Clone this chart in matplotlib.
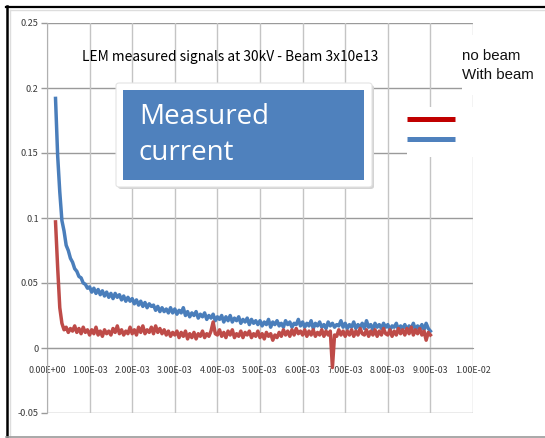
import numpy as np
import matplotlib
matplotlib.use("Agg")
import matplotlib.pyplot as plt
from matplotlib.patches import Rectangle, FancyBboxPatch
from matplotlib.lines import Line2D
from matplotlib.ticker import FixedLocator, FixedFormatter

# ---------------- data ----------------
t_start = 0.20e-3
t_step = 0.05e-3

with_beam = [
    0.192, 0.148, 0.120, 0.098, 0.090, 0.079, 0.075, 0.069, 0.066, 0.061, 0.059, 0.055, 0.054, 0.050, 0.049, 0.046,
    0.047, 0.043, 0.046, 0.042, 0.045, 0.041, 0.044, 0.040, 0.043, 0.039, 0.042, 0.038, 0.042, 0.039, 0.041, 0.037, 0.040, 0.036, 0.039, 0.036,
    0.038, 0.034, 0.037, 0.033, 0.036, 0.032, 0.035, 0.031, 0.034, 0.032, 0.033, 0.029, 0.032, 0.028, 0.031, 0.028, 0.030, 0.027, 0.031, 0.027,
    0.030, 0.026, 0.029, 0.027, 0.031, 0.025, 0.028, 0.024, 0.027, 0.025, 0.028, 0.023, 0.026, 0.024, 0.027, 0.022, 0.025, 0.023, 0.026, 0.021,
    0.024, 0.022, 0.025, 0.020, 0.024, 0.021, 0.025, 0.020, 0.023, 0.021, 0.024, 0.019, 0.022, 0.020, 0.023, 0.018, 0.022, 0.019, 0.021, 0.018,
    0.021, 0.017, 0.020, 0.018, 0.022, 0.016, 0.020, 0.018, 0.021, 0.017, 0.019, 0.016, 0.021, 0.018, 0.020, 0.016, 0.019, 0.018, 0.022, 0.017,
    0.020, 0.016, 0.019, 0.017, 0.021, 0.015, 0.019, 0.017, 0.020, 0.016, 0.018, 0.015, 0.020, 0.017, 0.019, 0.016, 0.018, 0.017, 0.021, 0.016,
    0.019, 0.015, 0.018, 0.016, 0.020, 0.015, 0.018, 0.016, 0.019, 0.015, 0.021, 0.016, 0.018, 0.014, 0.019, 0.016, 0.018, 0.015, 0.019, 0.016,
    0.018, 0.014, 0.017, 0.016, 0.019, 0.014, 0.017, 0.015, 0.018, 0.014, 0.017, 0.015, 0.019, 0.014, 0.017, 0.015, 0.018, 0.014, 0.019, 0.015,
    0.013,
]

no_beam = [
    0.097, 0.062, 0.031, 0.019, 0.014, 0.016, 0.012, 0.015, 0.013, 0.017, 0.012, 0.015, 0.011, 0.016, 0.012, 0.014,
    0.010, 0.014, 0.011, 0.016, 0.010, 0.013, 0.009, 0.014, 0.011, 0.013, 0.010, 0.015, 0.012, 0.017, 0.011, 0.014, 0.010, 0.013, 0.011, 0.016,
    0.011, 0.014, 0.010, 0.016, 0.012, 0.017, 0.011, 0.014, 0.012, 0.016, 0.011, 0.017, 0.012, 0.015, 0.011, 0.014, 0.010, 0.013, 0.009, 0.012,
    0.010, 0.013, 0.008, 0.012, 0.009, 0.013, 0.007, 0.011, 0.008, 0.012, 0.007, 0.011, 0.009, 0.013, 0.008, 0.011, 0.009, 0.013, 0.020, 0.011,
    0.010, 0.014, 0.009, 0.012, 0.008, 0.013, 0.010, 0.014, 0.008, 0.011, 0.009, 0.013, 0.008, 0.012, 0.010, 0.013, 0.008, 0.011, 0.009, 0.013,
    0.008, 0.011, 0.007, 0.012, 0.009, 0.011, 0.006, 0.010, 0.008, 0.012, 0.009, 0.014, 0.010, 0.013, 0.009, 0.014, 0.010, 0.015, 0.011, 0.013,
    0.010, 0.014, 0.009, 0.013, 0.010, 0.014, 0.009, 0.012, 0.010, 0.014, 0.009, 0.013, 0.010, 0.013, -0.015, 0.010, 0.009, 0.014, 0.010, 0.013,
    0.009, 0.013, 0.010, 0.014, 0.009, 0.013, 0.010, 0.015, 0.011, 0.010, 0.014, 0.009, 0.013, 0.010, 0.014, 0.009, 0.013, 0.010, 0.015, 0.011,
    0.010, 0.014, 0.009, 0.013, 0.010, 0.015, 0.011, 0.014, 0.010, 0.015, 0.011, 0.016, 0.010, 0.014, 0.011, 0.015, 0.010, 0.013, 0.006, 0.012,
    0.010,
]

x_ticks = [0, 1e-3, 2e-3, 3e-3, 4e-3, 5e-3, 6e-3, 7e-3, 8e-3, 9e-3, 1e-2]
x_tick_labels = ["0.00E+00", "1.00E-03", "2.00E-03", "3.00E-03", "4.00E-03", "5.00E-03",
                 "6.00E-03", "7.00E-03", "8.00E-03", "9.00E-03", "1.00E-02"]
y_ticks = [-0.05, 0, 0.05, 0.1, 0.15, 0.2, 0.25]
y_tick_labels = ["-0.05", "0", "0.05", "0.1", "0.15", "0.2", "0.25"]

title = "LEM measured signals at 30kV - Beam 3x10e13"
legend_labels = ["no beam", "With beam"]
box_lines = ["Measured", "current"]

# ---------------- style ----------------
W, H = 545, 438
NARROW = ["Noto Sans CJK SC", "Liberation Sans", "DejaVu Sans"]
BLUE = "#4A7EBB"
RED = "#BE4B48"
LEG_RED = "#C00000"
LEG_BLUE = "#4F81BD"
BOX_BLUE = "#4F81BD"

fig = plt.figure(figsize=(W / 100, H / 100), dpi=100)
fig.patch.set_facecolor("white")


def fx(x):
    return x / W


def fy(y):
    return 1 - y / H


ax = fig.add_axes([fx(47), fy(413), fx(473) - fx(47), fy(23) - fy(413)])
ax.set_facecolor("white")

t_with = t_start + t_step * np.arange(len(with_beam))
t_no = t_start + t_step * np.arange(len(no_beam))
ax.plot(t_with, with_beam, color=BLUE, lw=2.5, solid_joinstyle="round", zorder=3)
ax.plot(t_no, no_beam, color=RED, lw=2.5, solid_joinstyle="round", zorder=4)

ax.set_xlim(0, 0.01)
ax.set_ylim(-0.05, 0.25)

for yv in y_ticks:
    ax.axhline(yv, color="#9a9a9a", lw=1.0, zorder=1)
for xv in x_ticks:
    ax.axvline(xv, color="#c4c4c4", lw=1.0, zorder=1)

for s in ["top", "right"]:
    ax.spines[s].set_visible(False)
ax.spines["bottom"].set_position(("data", 0))
ax.spines["bottom"].set_color("#9a9a9a")
ax.spines["left"].set_color("#b0b0b0")

ax.xaxis.set_major_locator(FixedLocator(x_ticks))
ax.xaxis.set_major_formatter(FixedFormatter(x_tick_labels))
ax.yaxis.set_major_locator(FixedLocator(y_ticks))
ax.yaxis.set_major_formatter(FixedFormatter(y_tick_labels))
ax.tick_params(axis="x", length=0, pad=13, labelcolor="#3a3a3a", labelsize=6.4)
ax.tick_params(axis="y", length=4, width=1, color="#9a9a9a", pad=2,
               labelcolor="#3a3a3a", labelsize=6.6)
for lab in ax.get_xticklabels() + ax.get_yticklabels():
    lab.set_family(NARROW)

# title
fig.text(fx(230), fy(57), title, ha="center", va="center", fontsize=9.9,
         fontweight="medium", family=NARROW, color="#000000")

# measured current callout
shadow = FancyBboxPatch((fx(118), fy(189)), fx(372) - fx(116), fy(83) - fy(187),
                        boxstyle="round,pad=0,rounding_size=0.006",
                        transform=fig.transFigure, facecolor="#d4d4d4",
                        edgecolor="none", zorder=5)
fig.add_artist(shadow)
white = FancyBboxPatch((fx(116), fy(187)), fx(372) - fx(116), fy(83) - fy(187),
                       boxstyle="round,pad=0,rounding_size=0.006",
                       transform=fig.transFigure, facecolor="white",
                       edgecolor="#e4e4e4", lw=0.8, zorder=6)
fig.add_artist(white)
blue_box = Rectangle((fx(123), fy(180)), fx(364) - fx(123), fy(90) - fy(180),
                     transform=fig.transFigure, facecolor=BOX_BLUE,
                     edgecolor="none", zorder=7)
fig.add_artist(blue_box)
fig.text(fx(139), fy(117), box_lines[0], ha="left", va="center", fontsize=20,
         family="Open Sans", color="white", zorder=8)
fig.text(fx(139), fy(153), box_lines[1], ha="left", va="center", fontsize=20,
         family="Open Sans", color="white", zorder=8)

# legend blocks
fig.add_artist(Rectangle((fx(462), fy(95)), fx(545) - fx(462), fy(35) - fy(95),
                         transform=fig.transFigure, facecolor="white",
                         edgecolor="none", zorder=5))
fig.add_artist(Rectangle((fx(407), fy(157)), fx(490) - fx(407), fy(107) - fy(157),
                         transform=fig.transFigure, facecolor="white",
                         edgecolor="none", zorder=5))
fig.add_artist(Line2D([fx(407), fx(455)], [fy(119), fy(119)], transform=fig.transFigure,
                      color=LEG_RED, lw=3.6, solid_capstyle="butt", zorder=6))
fig.add_artist(Line2D([fx(407), fx(455)], [fy(139), fy(139)], transform=fig.transFigure,
                      color=LEG_BLUE, lw=3.6, solid_capstyle="butt", zorder=6))
fig.text(fx(462), fy(56), legend_labels[0], ha="left", va="center", fontsize=10.8,
         family="Liberation Sans", color="#111111", zorder=7)
fig.text(fx(462), fy(75), legend_labels[1], ha="left", va="center", fontsize=10.8,
         family="Liberation Sans", color="#111111", zorder=7)

# outer frame
fig.add_artist(Line2D([fx(6), fx(545)], [fy(6.5), fy(6.5)], transform=fig.transFigure,
                      color="black", lw=1.6, zorder=10))
fig.add_artist(Line2D([fx(7), fx(7)], [fy(6), fy(437)], transform=fig.transFigure,
                      color="black", lw=1.8, zorder=10))
fig.add_artist(Line2D([fx(9.5), fx(545)], [fy(9.5), fy(9.5)], transform=fig.transFigure,
                      color="#dddddd", lw=1.0, zorder=9))
fig.add_artist(Line2D([fx(9.5), fx(9.5)], [fy(9.5), fy(437)], transform=fig.transFigure,
                      color="#dddddd", lw=1.0, zorder=9))
fig.add_artist(Line2D([fx(6), fx(545)], [fy(437), fy(437)], transform=fig.transFigure,
                      color="#9a9a9a", lw=1.2, zorder=10))

fig.savefig("out.png", dpi=100, facecolor="white")
